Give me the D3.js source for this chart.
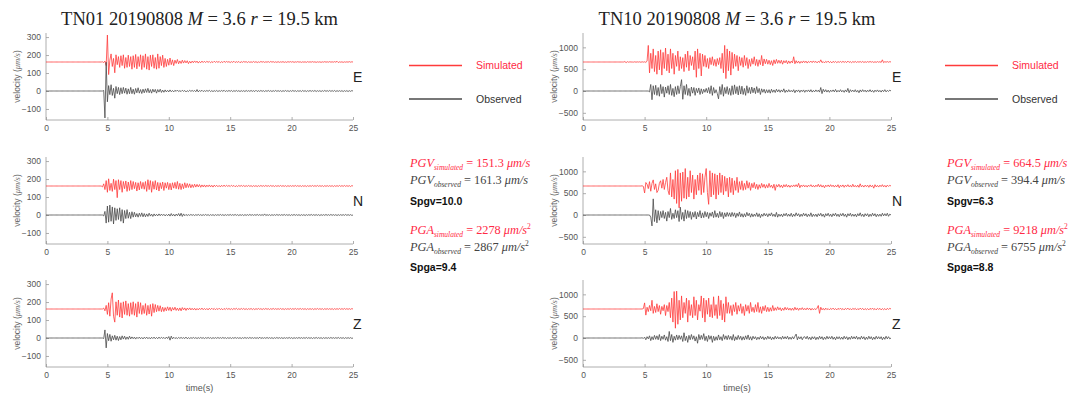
<!DOCTYPE html>
<html><head><meta charset="utf-8">
<script src="https://cdn.jsdelivr.net/npm/d3@7"></script>
<style>body{margin:0;background:#fff}svg{display:block}</style>
</head><body>
<svg id="chart" width="1073" height="393"></svg>
<script>
// Event and station metadata
const stations = ["TN01", "TN10"];
const eventDate = "20190808";
const magnitude = 3.6;
const distanceKm = 19.5;
const components = ["E", "N", "Z"];

// Peak values (µm/s and µm/s²) and scores per station
const pgvSim = [151.3, 664.5];
const pgvObs = [161.3, 394.4];
const pgaSim = [2278, 9218];
const pgaObs = [2867, 6755];
const spgv = [10.0, 6.3];
const spga = [9.4, 8.8];

const xTicks = [0, 5, 10, 15, 20, 25];
const yTicks = [[-100, 0, 100, 200, 300], [-500, 0, 500, 1000]];

// Velocity traces, one sample every 0.1 s from 0 to 25 s (µm/s)
const dt = 0.1;

const tn01SimE = [
0,0,0,0,0,0,0,0,0,0, 0,0,0,0,0,0,0,0,0,0, 0,0,0,0,0,0,0,0,0,0, 0,0,0,0,0,0,0,0,0,0,
0,0,0,0,0,0,1,-3,5,-20,
150,-70,10,45,-25,20,-60,40,-15,30,
-30,35,-20,40,-35,25,-30,38,-25,30,
-40,35,-30,42,-38,30,-25,40,-42,35,
-30,45,-40,30,-45,38,-25,40,-35,25,
-40,45,-35,30,-20,38,-30,20,-25,15,
-18,22,-15,12,-20,10,-8,14,-10,6,
-8,10,-6,8,-5,7,-9,4,-6,5,
-4,6,-3,5,-6,3,-4,5,-3,4,
-3,4,-2,3,-4,2,-3,4,-2,3,
-2,3,-4,2,-3,4,-2,3,-1,2,
-3,2,-2,4,-3,2,-2,3,-4,2,
-2,3,-1,2,-3,2,-2,1,-2,3,
-2,2,-3,1,-2,3,-1,2,-2,1,
-1,2,-2,3,-1,2,-2,1,-2,2,
-2,1,-1,2,-2,1,-2,2,-1,2,
-1,2,-2,1,-1,2,-1,1,-2,1,
-1,1,-2,2,-1,1,-1,2,-1,1,
-2,1,-1,1,-2,1,-1,2,-1,1,
-1,2,-1,1,-1,2,-1,4,-3,1,
-1,1,-2,1,-1,1,-1,2,-1,1,
0];
const tn01ObsE = [
0,0,0,0,0,0,0,0,0,0, 0,0,0,0,0,0,0,0,0,0, 0,0,0,0,0,0,0,0,0,0, 0,0,0,0,0,0,0,0,0,0,
0,0,0,0,0,0,0,3,-150,160,
-60,30,-20,35,-25,15,-40,25,-15,20,
-20,18,-15,20,-12,16,-18,12,-15,20,
-15,10,-18,14,-10,18,-12,8,-14,10,
-10,12,-8,15,-10,8,-12,10,-6,9,
-12,8,-6,10,-8,5,-7,6,-5,4,
-5,6,-4,3,-5,4,-2,5,-3,2,
-3,4,-2,3,-5,2,-3,4,-2,3,
-2,3,-4,8,-5,3,-2,4,-3,2,
-2,3,-2,4,-3,2,-3,2,-2,3,
-3,2,-2,3,-2,4,-3,2,-2,3,
-2,3,-3,2,-2,3,-2,2,-3,2,
-2,2,-3,3,-2,2,-2,3,-2,2,
-3,4,-3,2,-2,3,-2,2,-3,2,
-2,3,-2,2,-3,2,-2,3,-2,2,
-2,2,-3,2,-2,3,-2,2,-3,2,
-2,3,-2,2,-3,2,-2,2,-3,3,
-2,2,-3,2,-2,3,-2,2,-2,3,
-3,2,-2,2,-3,2,-2,3,-2,2,
-2,3,-2,2,-2,3,-3,2,-2,2,
-2,2,-3,2,-2,2,-3,2,-2,2,
0];

const tn01SimN = [
0,0,0,0,0,0,0,0,0,0, 0,0,0,0,0,0,0,0,0,0, 0,0,0,0,0,0,0,0,0,0, 0,0,0,0,0,0,0,0,0,0,
0,0,0,0,0,0,-5,12,-20,30,
-35,40,-25,15,-30,38,-20,30,-65,35,
-20,30,-35,25,-15,28,-30,22,-25,30,
-20,25,-15,20,-28,18,-22,25,-15,20,
-18,25,-30,35,-20,30,-35,25,-18,30,
-22,20,-28,18,-15,22,-25,18,-12,20,
-20,15,-22,18,-12,20,-15,25,-18,15,
-20,12,-15,18,-10,14,-8,12,-10,8,
-8,10,-6,9,-5,8,-7,6,-5,6,
-6,5,-4,6,-5,4,-6,5,-3,4,
-4,3,-5,4,-3,5,-3,4,-2,3,
-3,4,-2,3,-4,2,-3,3,-2,3,
-2,3,-3,2,-2,3,-2,2,-3,2,
-2,2,-3,2,-2,3,-2,2,-2,3,
-2,2,-2,3,-2,2,-3,2,-2,2,
-2,3,-2,2,-2,2,-3,2,-2,2,
-2,2,-2,3,-2,2,-2,2,-3,2,
-2,2,-3,2,-2,2,-2,3,-2,2,
-2,3,-2,2,-2,2,-3,2,-2,2,
-2,2,-2,2,-3,2,-2,2,-2,3,
-2,2,-2,3,-2,2,-2,2,-3,2,
0];
const tn01ObsN = [
0,0,0,0,0,0,0,0,0,0, 0,0,0,0,0,0,0,0,0,0, 0,0,0,0,0,0,0,0,0,0, 0,0,0,0,0,0,0,0,0,0,
0,0,0,0,0,0,0,-5,20,-45,
50,-40,55,-35,45,-50,40,-30,35,-25,
40,-35,30,-45,25,-20,30,-18,15,-20,
18,-12,15,-10,8,-12,10,-8,12,-10,
8,-10,6,-8,10,-6,5,-8,6,-5,
4,-5,6,-4,5,-3,4,-5,3,-4,
5,-6,8,-5,4,-6,5,-4,8,-6,
10,-8,6,-4,3,-3,2,-2,3,-2,
2,-3,2,-2,3,-2,2,-3,2,-2,
3,-2,2,-3,2,-2,2,-3,2,-2,
2,-2,3,-2,2,-3,2,-2,2,-2,
3,-2,2,-2,3,-2,2,-3,2,-2,
2,-3,2,-2,2,-2,3,-2,2,-2,
2,-2,3,-2,2,-2,2,-3,6,-3,
2,-2,2,-3,2,-2,2,-2,3,-2,
2,-2,2,-2,3,-2,2,-2,2,-3,
2,-2,3,-2,2,-2,2,-3,2,-2,
2,-3,2,-2,2,-2,3,-2,2,-2,
2,-2,2,-3,2,-2,2,-2,3,-2,
2,-2,3,-2,2,-2,2,-3,2,-2,
2,-2,2,-2,3,-2,2,-2,2,-2,
0];

const tn01SimZ = [
0,0,0,0,0,0,0,0,0,0, 0,0,0,0,0,0,0,0,0,0, 0,0,0,0,0,0,0,0,0,0, 0,0,0,0,0,0,0,0,0,0,
0,0,0,0,0,0,0,5,-10,20,
-30,35,-40,55,90,-40,-73,40,-35,50,
-45,35,-50,40,-30,45,-35,30,-40,35,
-30,40,-35,30,-45,40,-25,35,-30,20,
-25,30,-35,20,-28,25,-40,30,-20,25,
-15,20,-12,18,-15,10,-14,8,-10,12,
-8,10,-12,8,-6,10,-8,5,-9,6,
-10,8,-5,6,-8,5,-4,6,-5,4,
-5,4,-6,3,-5,4,-3,5,-4,3,
-4,3,-5,4,-3,4,-3,3,-4,3,
-3,4,-3,2,-4,3,-3,4,-2,3,
-3,2,-3,3,-2,4,-3,2,-3,3,
-2,3,-3,2,-3,2,-2,3,-3,2,
-3,2,-2,3,-2,2,-3,2,-2,3,
-2,2,-3,2,-2,3,-2,2,-2,2,
-2,3,-2,2,-3,2,-2,2,-2,3,
-2,2,-2,3,-2,2,-2,3,-2,2,
-2,2,-3,2,-2,2,-2,2,-3,2,
-2,3,-2,2,-2,2,-3,2,-2,2,
-2,2,-2,2,-3,2,-2,2,-2,3,
-2,2,-2,3,-2,2,-2,2,-2,2,
0];
const tn01ObsZ = [
0,0,0,0,0,0,0,0,0,0, 0,0,0,0,0,0,0,0,0,0, 0,0,0,0,0,0,0,0,0,0, 0,0,0,0,0,0,0,0,0,0,
0,0,0,0,0,0,0,-3,45,-55,
25,-15,20,-18,12,-10,15,-12,10,-14,
8,-10,12,-6,10,-8,6,-7,10,-5,
6,-4,5,-6,4,-3,5,-4,3,-5,
4,-3,5,-4,3,-5,4,-3,5,-4,
3,-4,5,-3,4,-2,3,-4,5,-3,
8,-12,10,-5,4,-3,2,-3,3,-2,
3,-2,2,-3,5,-4,2,-3,2,-2,
3,-2,2,-3,2,-2,3,-2,2,-3,
2,-2,3,-2,2,-3,2,-2,2,-2,
3,-2,2,-2,3,-2,2,-3,2,-2,
2,-3,2,-2,3,-2,2,-2,2,-3,
2,-2,3,-2,2,-2,3,-2,2,-2,
2,-2,2,-3,5,-3,2,-2,2,-2,
3,-2,2,-2,2,-3,2,-2,3,-2,
2,-2,2,-3,2,-2,2,-2,3,-2,
2,-3,2,-2,2,-2,3,-2,2,-2,
2,-2,3,-2,2,-2,2,-3,2,-2,
3,-2,2,-2,2,-3,2,-2,2,-2,
2,-2,3,-2,2,-2,2,-2,3,-2,
2,-2,2,-3,2,-2,2,-2,2,-2,
0];

const tn10SimE = [
0,0,0,0,0,0,0,0,0,0, 0,0,0,0,0,0,0,0,0,0, 0,0,0,0,0,0,0,0,0,0,
0,0,0,0,10,-15,8,-5,3,0,
0,-3,5,-4,3,-2,4,-6,5,-3,
4,-8,20,380,-250,200,-150,300,-220,150,
-280,250,-180,280,-300,220,-150,320,-200,180,
-250,300,-150,200,-280,150,-100,250,-200,120,
-150,100,-220,180,-120,250,-200,150,-80,120,
-180,250,-350,300,-150,200,-320,180,-100,150,
-120,80,-150,100,-60,120,-80,60,-100,80,
-60,100,-150,200,-250,380,-380,300,-200,250,
-300,220,-150,180,-100,150,-200,120,-80,100,
-120,150,-80,100,-150,60,-100,80,-50,120,
-80,60,-100,50,-60,150,-90,70,-40,60,
-50,40,-60,30,-80,50,-40,60,-30,40,
-30,40,-50,30,-20,35,-40,25,-30,20,
-20,120,-40,30,-25,20,-30,15,-20,25,
-15,20,-25,15,-10,20,-15,25,-10,15,
-20,15,-10,50,-15,10,-20,15,-10,20,
-15,10,-20,15,-10,12,-15,10,-8,12,
-10,15,-8,10,-12,20,-10,8,-15,10,
-8,12,-10,8,-5,10,-8,12,-10,6,
-8,10,-6,12,-5,8,-10,6,-8,10,
-6,8,-10,50,-15,8,-5,10,-6,8,
0];
const tn10ObsE = [
0,0,0,0,0,0,0,0,0,0, 0,0,0,0,0,0,0,0,0,0, 0,0,0,0,0,0,0,0,0,0, 0,0,0,0,0,0,0,0,0,0,
0,0,0,0,0,0,0,0,0,0,
0,0,0,0,-20,150,-200,120,-80,130,
-100,80,-120,150,-60,100,-140,90,-50,120,
-80,150,-100,60,-130,100,-80,120,-60,100,
260,-190,120,-80,150,-100,60,-120,90,-50,
80,-100,60,-40,70,-80,50,-60,40,-30,
60,-40,80,-60,120,-100,80,-50,30,-60,
-180,100,-80,150,-120,80,-60,100,-80,60,
-100,120,-80,140,-60,100,-90,120,-70,110,
-80,60,-100,120,-50,80,-60,90,-40,70,
-60,100,-40,60,-80,50,-30,40,-50,30,
-40,30,-50,40,-30,25,-35,40,-20,30,
-30,25,-20,50,-35,20,-25,30,-20,15,
-20,30,-40,20,-15,25,-30,20,-15,25,
-30,20,-15,25,-20,30,-25,15,-20,25,
-15,20,-25,80,-60,40,-20,30,-25,20,
-30,20,-15,25,-20,35,-25,15,-20,30,
-20,15,-30,25,-20,60,-40,30,-15,20,
-20,30,-25,15,-40,25,-20,30,-15,20,
-25,20,-15,30,-20,15,-30,20,-15,25,
-20,15,-25,20,-15,30,-20,15,-10,20,
0];

const tn10SimN = [
0,0,0,0,0,0,0,0,0,0, 0,0,0,0,0,0,0,0,0,0, 0,0,0,0,0,0,0,0,0,0, 0,0,0,0,0,0,0,0,0,0,
0,0,0,0,0,0,0,0,5,-10,
-160,80,40,-60,100,-120,60,140,-80,50,
-150,-100,60,120,-50,150,-80,80,200,-100,
-200,300,-250,150,-300,350,-400,380,-500,300,
-350,320,-280,400,-300,200,-250,350,-150,250,
-300,150,-200,250,-100,300,-200,280,-150,200,
400,-150,-420,350,-250,300,-200,280,-300,250,
-200,300,-150,250,-200,220,-120,180,-250,200,
-150,180,-200,120,-100,200,-150,100,-80,120,
-100,60,-80,120,-50,80,-100,60,-40,80,
-60,40,-80,30,-50,60,-30,40,-50,30,
-40,60,-30,20,-50,40,-100,30,-20,40,
-30,20,-40,30,-20,35,-25,20,-30,15,
-20,25,-15,30,-20,60,-40,20,-15,25,
-20,15,-25,20,-10,30,-20,15,-25,20,
-15,40,-20,30,-25,15,-40,20,-15,25,
-20,30,-15,20,-25,15,-20,30,-40,20,
-15,25,-30,20,-15,30,-20,15,-25,40,
-20,15,-25,20,-30,50,-20,15,-25,20,
-15,20,-30,25,-20,15,-50,30,-20,15,
-25,20,-15,30,-20,15,-25,20,-10,15,
0];
const tn10ObsN = [
0,0,0,0,0,0,0,0,0,0, 0,0,0,0,0,0,0,0,0,0, 0,0,0,0,0,0,0,0,0,0, 0,0,0,0,0,0,0,0,0,0,
0,0,0,0,0,0,0,0,0,0,
0,0,0,0,0,-50,-250,370,-150,120,
-180,100,-120,80,-60,100,-80,60,-140,80,
-60,150,-100,40,-80,120,-60,100,-150,180,
-100,60,-140,120,-80,100,-60,80,-100,60,
-50,80,-90,60,-40,100,-70,50,-60,80,
-40,60,-80,50,-30,70,-60,100,-50,40,
-60,80,-40,60,-80,50,-40,60,-30,50,
-40,60,-30,50,-60,40,-30,70,-40,30,
-50,30,-40,60,-20,40,-50,30,-40,20,
-30,50,-40,30,-60,20,-30,40,-20,30,
-40,30,-20,50,-30,20,-40,60,-50,20,
-30,20,-40,30,-20,40,-30,20,-30,40,
-40,20,-30,50,-20,30,-40,20,-30,40,
-20,30,-40,20,-30,50,-40,20,-30,20,
-40,30,-20,40,-30,20,-50,30,-20,40,
-30,20,-40,30,-20,40,-30,20,-40,30,
-20,40,-30,20,-50,30,-20,40,-30,20,
-30,20,-40,30,-20,50,-30,20,-40,30,
-20,30,-40,20,-30,40,-20,30,-40,20,
-30,20,-30,40,-20,30,-20,40,-30,20,
0];

const tn10SimZ = [
0,0,0,0,0,0,0,0,0,0, 0,0,0,0,0,0,0,0,0,0, 0,0,0,0,0,0,0,0,0,0, 0,0,0,0,0,0,0,0,0,0,
0,0,0,0,0,0,0,0,0,10,
140,-140,40,-60,80,-40,200,-100,60,-80,
120,-60,80,-120,60,-40,100,-150,80,-60,
150,-200,250,-300,400,-440,410,-350,200,-250,
300,-200,150,-100,250,-300,200,-150,100,-200,
280,-150,200,-250,100,-50,300,-200,250,-300,
200,-120,250,-180,100,-200,280,-150,100,-220,
300,-150,200,-250,120,-300,280,-100,150,-100,
80,-150,100,-60,150,-120,80,-50,120,-100,
60,-150,100,-50,80,-100,150,-60,40,-80,
100,-60,150,-80,50,-100,60,-40,80,-60,
40,-60,30,-50,80,-40,30,-30,50,-20,
30,-40,20,-30,40,-20,30,-25,20,-30,
20,-30,40,-20,25,-30,20,-15,30,-20,
15,-20,25,-15,20,-25,15,-20,10,-15,
20,80,-100,40,-20,15,-25,20,-15,10,
-20,15,-10,20,-15,10,-20,15,-10,20,
-15,10,-20,15,-10,20,-15,10,-20,15,
-10,15,-20,10,-15,20,-10,15,-20,10,
-15,10,-20,15,-10,20,-15,10,-20,15,
-10,15,-20,10,-15,10,-20,15,-10,15,
0];
const tn10ObsZ = [
0,0,0,0,0,0,0,0,0,0, 0,0,0,0,0,0,0,0,0,0, 0,0,0,0,0,0,0,0,0,0, 0,0,0,0,0,0,0,0,0,0,
0,0,0,0,0,0,0,0,5,-10,
20,-40,30,-20,50,-60,30,-40,60,-30,
50,-40,80,-60,40,-30,70,-50,30,-80,
150,-60,80,-100,40,-50,70,-40,60,-30,
50,-80,120,-60,40,-100,60,-40,80,-30,
50,-70,30,-120,80,-40,60,-30,100,-60,
40,-80,60,-30,50,-100,40,-60,30,-50,
70,-40,30,-60,80,-30,50,-40,60,-30,
40,-50,80,-60,30,-40,60,-30,40,-50,
30,-40,50,-30,70,-40,30,-50,40,-20,
30,-40,20,-30,40,-20,30,-40,20,-30,
40,-20,30,-40,20,-30,40,-20,30,-20,
20,-30,40,-20,30,-20,40,-30,20,-30,
30,-20,40,90,-40,30,-20,30,-40,20,
30,-20,40,-30,20,-40,30,-20,30,-40,
20,-30,40,-20,30,-40,20,-30,40,-20,
30,-20,40,-30,20,-40,30,-20,30,-30,
20,-30,40,-20,30,-40,20,-30,40,-20,
30,-20,40,-30,20,-30,40,-20,30,-40,
20,-30,40,-20,30,-40,20,-30,40,-20,
30,-20,30,-40,20,-30,40,-20,30,-20,
0];

const simTraces = [[tn01SimE, tn01SimN, tn01SimZ], [tn10SimE, tn10SimN, tn10SimZ]];
const obsTraces = [[tn01ObsE, tn01ObsN, tn01ObsZ], [tn10ObsE, tn10ObsN, tn10ObsZ]];

// ---- drawing ----
const svg = d3.select("#chart");
const RED = "#ff3b3b", RED_TXT = "#ff2a45", OBS = "#4a4a4a";
const AX = "#9a9a9a", TICK_TXT = "#555";
const colX = [[46, 353], [583, 891]];
const rowBottom = [120, 244, 367];
const panelH = 87;
const legendX = [409, 945];
const statsX = [410, 947];

stations.forEach((st, s) => {
  const x = d3.scaleLinear().domain([0, 25]).range(colX[s]);
  const m = Math.max(pgvSim[s], pgvObs[s]);
  const offset = m;

  // title
  const cx = (colX[s][0] + colX[s][1]) / 2;
  const title = svg.append("text")
    .attr("x", cx).attr("y", 25).attr("text-anchor", "middle")
    .attr("font-family", "'Liberation Serif', 'DejaVu Serif', serif")
    .attr("font-size", 18.5).attr("fill", "#222");
  title.append("tspan").text(`${st} ${eventDate} `);
  title.append("tspan").attr("font-style", "italic").text("M");
  title.append("tspan").text(` = ${magnitude} `);
  title.append("tspan").attr("font-style", "italic").text("r");
  title.append("tspan").text(` = ${distanceKm} km`);

  components.forEach((comp, c) => {
    const yB = rowBottom[c];
    const y = d3.scaleLinear().domain([-m, 2 * m]).range([yB, yB - panelH]);
    const g = svg.append("g");

    // axes
    const xAxis = d3.axisBottom(x).tickValues(xTicks).tickSize(-3).tickPadding(5);
    const gx = g.append("g").attr("transform", `translate(0,${yB})`).call(xAxis);
    const yAxis = d3.axisLeft(y).tickValues(yTicks[s]).tickFormat(d3.format("d")).tickSize(-3).tickPadding(5);
    const gy = g.append("g").attr("transform", `translate(${colX[s][0]},0)`).call(yAxis);
    [gx, gy].forEach(a => {
      a.select(".domain").attr("stroke", AX).attr("stroke-width", 0.8);
      a.selectAll(".tick line").attr("stroke", AX).attr("stroke-width", 0.8);
      a.selectAll(".tick text").attr("fill", TICK_TXT)
        .attr("font-family", "'Liberation Sans', Arial, sans-serif").attr("font-size", 8.5);
    });
    gx.select(".domain").attr("d", `M${colX[s][0]},0H${colX[s][1]}`);
    gy.select(".domain").attr("d", `M0,${yB}V${yB - panelH}`);

    // y label
    const yl = g.append("text")
      .attr("transform", `translate(${colX[s][0] - 26},${yB - panelH / 2}) rotate(-90)`)
      .attr("text-anchor", "middle").attr("fill", "#666")
      .attr("font-family", "'Liberation Sans', Arial, sans-serif").attr("font-size", 8.5);
    yl.append("tspan").text("velocity (");
    yl.append("tspan").attr("font-family", "'Liberation Serif', serif").attr("font-style", "italic").text("μm/s");
    yl.append("tspan").text(")");

    // traces
    const simLine = d3.line().x((d, i) => x(i * dt)).y(d => y(d + offset));
    const obsLine = d3.line().x((d, i) => x(i * dt)).y(d => y(d));
    g.append("path").datum(simTraces[s][c]).attr("d", simLine)
      .attr("fill", "none").attr("stroke", RED).attr("stroke-width", 0.8).attr("stroke-linejoin", "round");
    g.append("path").datum(obsTraces[s][c]).attr("d", obsLine)
      .attr("fill", "none").attr("stroke", OBS).attr("stroke-width", 0.8).attr("stroke-linejoin", "round");

    // component letter
    g.append("text").attr("x", colX[s][1] + (s === 0 ? 0 : 1)).attr("y", yB - 38)
      .attr("font-family", "'Liberation Sans', Arial, sans-serif").attr("font-size", 14)
      .attr("fill", "#222").text(comp);

    if (c === 2) {
      g.append("text").attr("x", cx).attr("y", yB + 24).attr("text-anchor", "middle")
        .attr("font-family", "'Liberation Sans', Arial, sans-serif").attr("font-size", 9)
        .attr("fill", "#555").text("time(s)");
    }
  });

  // legend
  const lg = svg.append("g");
  [["Simulated", RED, 65.5, RED_TXT], ["Observed", OBS, 99, "#333"]].forEach(([lab, col, ly, tc]) => {
    lg.append("line").attr("x1", legendX[s]).attr("x2", legendX[s] + 53).attr("y1", ly).attr("y2", ly)
      .attr("stroke", col).attr("stroke-width", 1.4);
    lg.append("text").attr("x", legendX[s] + 67).attr("y", ly + 3.8)
      .attr("font-family", "'Liberation Sans', Arial, sans-serif").attr("font-size", 10.5)
      .attr("fill", tc).text(lab);
  });

  // peak statistics
  const mathLine = (yy, name, sub, val, unit, sq, color) => {
    const t = svg.append("text").attr("x", statsX[s]).attr("y", yy)
      .attr("font-family", "'Liberation Serif', 'DejaVu Serif', serif").attr("font-size", 12.3)
      .attr("fill", color);
    t.append("tspan").attr("font-style", "italic").text(name);
    t.append("tspan").attr("font-style", "italic").attr("font-size", 7.5).attr("dy", 2.5).text(sub);
    t.append("tspan").attr("dy", -2.5).text(` = ${val} `);
    t.append("tspan").attr("font-style", "italic").text(unit);
    if (sq) t.append("tspan").attr("font-size", 7.5).attr("dy", -5).text("2");
  };
  const boldLine = (yy, txt) => svg.append("text").attr("x", statsX[s]).attr("y", yy)
    .attr("font-family", "'Liberation Sans', Arial, sans-serif").attr("font-size", 10.5)
    .attr("font-weight", "bold").attr("fill", "#111").text(txt);

  mathLine(167, "PGV", "simulated", pgvSim[s].toFixed(1), "μm/s", false, RED_TXT);
  mathLine(184, "PGV", "observed", pgvObs[s].toFixed(1), "μm/s", false, "#444");
  boldLine(205, `Spgv=${spgv[s].toFixed(1)}`);
  mathLine(234, "PGA", "simulated", pgaSim[s], "μm/s", true, RED_TXT);
  mathLine(251, "PGA", "observed", pgaObs[s], "μm/s", true, "#444");
  boldLine(271, `Spga=${spga[s].toFixed(1)}`);
});
</script>
</body></html>
